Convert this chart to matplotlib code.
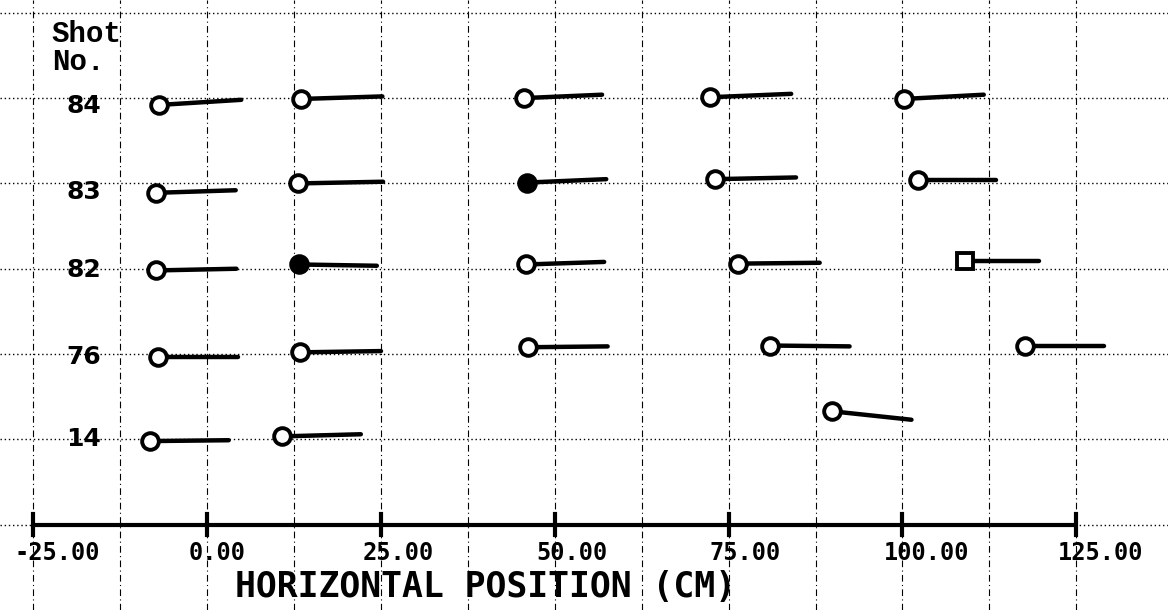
import matplotlib
matplotlib.use("Agg")
import matplotlib.pyplot as plt

## data
shot_labels = ["84", "83", "82", "76", "14"]
row_level = [5, 4, 3, 2, 1]
label_y = [4.91, 3.90, 2.99, 1.96, 1.0]

# one entry per marker (circle + tail)
x_start = [-6.9, 13.5, 45.5, 72.3, 100.2,
           -7.3, 13.1, 46.0, 73.1, 102.3,
           -7.4, 13.2, 45.9, 76.4, 109.0,
           -7.1, 13.3, 46.2, 80.9, 117.7,
           -8.2, 10.8, 89.8]
x_end = [4.9, 25.2, 56.8, 84.0, 111.7,
         4.1, 25.3, 57.4, 84.7, 113.5,
         4.2, 24.4, 57.1, 88.1, 119.7,
         4.4, 25.0, 57.6, 92.4, 129.0,
         3.1, 22.1, 101.3]
y_start = [4.92, 4.99, 5.0, 5.01, 4.99,
           3.89, 4.0, 4.01, 4.05, 4.035,
           2.98, 3.05, 3.05, 3.06, 3.09,
           1.97, 2.02, 2.08, 2.10, 2.10,
           0.98, 1.035, 1.33]
y_end = [4.98, 5.02, 5.04, 5.05, 5.04,
         3.92, 4.02, 4.05, 4.07, 4.035,
         3.0, 3.035, 3.08, 3.07, 3.09,
         1.97, 2.035, 2.09, 2.09, 2.10,
         0.99, 1.06, 1.23]
# o = open circle, f = filled circle, s = open square
style = ["o", "o", "o", "o", "o",
         "o", "o", "f", "o", "o",
         "o", "f", "o", "o", "s",
         "o", "o", "o", "o", "o",
         "o", "o", "o"]

major_ticks = [-25, 0, 25, 50, 75, 100, 125]
tick_text = ["-25.00", "0.00", "25.00", "50.00", "75.00", "100.00", "125.00"]
grid_x = [-25, -12.5, 0, 12.5, 25, 37.5, 50, 62.5, 75, 87.5, 100, 112.5, 125]
grid_y = [0, 1, 2, 3, 4, 5, 6]

fig = plt.figure(figsize=(11.68, 6.10), dpi=100)
ax = fig.add_axes([0, 0, 1, 1])
ax.set_xlim(-29.8, 138.2)
ax.set_ylim(-1.0, 6.15)
for s in ax.spines.values():
    s.set_visible(False)

ax.set_xticks(grid_x)
ax.set_yticks(grid_y)
ax.tick_params(length=0, labelbottom=False, labelleft=False)
ax.xaxis.grid(True, color="black", lw=0.8, ls=(0, (6, 3, 1, 3)))
ax.yaxis.grid(True, color="black", lw=1.0, ls=(0, (1, 2)))
ax.set_axisbelow(True)

## x axis line with heavy ticks
ax.plot([major_ticks[0], major_ticks[-1]], [0, 0], color="black", lw=3, solid_capstyle="butt", zorder=3)
for t in major_ticks:
    ax.plot([t, t], [-0.12, 0.12], color="black", lw=3, zorder=3)
for t, s in zip(major_ticks, tick_text):
    ax.text(t - 2.7, -0.33, s, ha="left", va="center", fontsize=17,
            family="DejaVu Sans Mono", fontweight="bold")
ax.text(40.1, -0.73, "HORIZONTAL POSITION (CM)", ha="center", va="center",
        fontsize=25, family="DejaVu Sans Mono", fontweight="bold")

## row labels
ax.text(-22.4, 5.75, "Shot", ha="left", va="center", fontsize=21,
        family="Liberation Mono", fontweight="bold")
ax.text(-22.3, 5.42, "No.", ha="left", va="center", fontsize=21,
        family="Liberation Mono", fontweight="bold")
for lab, ly in zip(shot_labels, label_y):
    ax.text(-17.8, ly, lab, ha="center", va="center", fontsize=18,
            family="DejaVu Sans", fontweight="bold")

## tails and markers
for i in range(len(x_start)):
    ax.plot([x_start[i], x_end[i]], [y_start[i], y_end[i]], color="black",
            lw=3.2, solid_capstyle="round", zorder=4)
    if style[i] == "f":
        ax.plot(x_start[i], y_start[i], "o", ms=12, mfc="black", mec="black", mew=2.8, zorder=5)
    elif style[i] == "s":
        ax.plot(x_start[i], y_start[i], "s", ms=11, mfc="white", mec="black", mew=2.8, zorder=5)
    else:
        ax.plot(x_start[i], y_start[i], "o", ms=12, mfc="white", mec="black", mew=2.8, zorder=5)

fig.savefig("out.png", dpi=100)
